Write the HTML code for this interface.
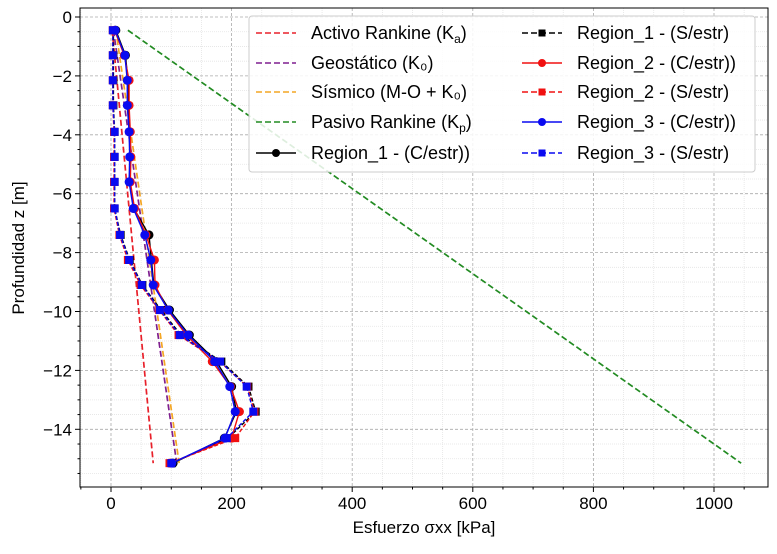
<!DOCTYPE html>
<html><head><meta charset="utf-8"><style>
body{margin:0;background:#fff;font-family:"Liberation Sans",sans-serif;}
svg text{font-family:"Liberation Sans",sans-serif;}
</style></head><body>
<svg id="chart" width="777" height="549" xmlns="http://www.w3.org/2000/svg">
<rect width="777" height="549" fill="#fff"/>
<g id="grid"></g><g id="series"></g><g id="axes"></g><g id="legend"></g>
</svg>
<script>
const depths=[-0.45,-1.3,-2.15,-3.0,-3.9,-4.75,-5.6,-6.5,-7.4,-8.25,-9.1,-9.95,-10.8,-11.7,-12.55,-13.4,-14.3,-15.15];
const r1C=[8,24,28,28,31,32,31,38,63,67,71,97,130,175,200,208,188,103];
const r1S=[4,4,4,4,6,6,6,6,16,31,52,83,116,183,228,240,194,101];
const r2C=[6,22,30,30,32,33,32,39,58,72,73,94,125,168,198,213,200,98];
const r2S=[3,3,3,3,5,5,5,5,14,28,49,80,112,180,226,238,206,97];
const r3C=[7,23,27,27,30,31,30,37,56,66,70,95,128,172,197,206,189,101];
const r3S=[3,3,3,3,6,6,6,6,15,30,51,81,114,181,225,236,192,100];
const theoryZ=[-0.45,-15.15];
const activo=[2,70];
const geo=[4,109];
const sism=[8,113];
const pasivo=[28,1045];
const xTicks=[0,200,400,600,800,1000];
const yTicks=[0,-2,-4,-6,-8,-10,-12,-14];

const L=80,R=768,T=8,B=487;
const X=v=>111+v*0.6030;
const Y=z=>17-z*29.45;
const NS="http://www.w3.org/2000/svg";
function mk(tag,attrs,parent){const e=document.createElementNS(NS,tag);for(const k in attrs)e.setAttribute(k,attrs[k]);parent.appendChild(e);return e;}
const grid=document.getElementById('grid'),ser=document.getElementById('series'),ax=document.getElementById('axes'),lg=document.getElementById('legend');
for(let v=-50;v<=1080;v+=50){if(v%200===0)continue;const x=X(v);if(x<L||x>R)continue;mk('line',{x1:x,x2:x,y1:T,y2:B,stroke:'#e4e4e4','stroke-width':0.8,'stroke-dasharray':'1,1'},grid);}
for(let z=0;z>=-15.9;z-=0.5){if(Math.abs(z%2)<1e-6)continue;const y=Y(z);mk('line',{x1:L,x2:R,y1:y,y2:y,stroke:'#e4e4e4','stroke-width':0.8,'stroke-dasharray':'1,1'},grid);}
xTicks.forEach(v=>{const x=X(v);const g=mk('line',{x1:x,x2:x,y1:T,y2:B,stroke:'#aaa','stroke-width':0.8,'stroke-dasharray':'3,2'},grid);});
yTicks.forEach(z=>{const y=Y(z);const g=mk('line',{x1:L,x2:R,y1:y,y2:y,stroke:'#aaa','stroke-width':0.8,'stroke-dasharray':'3,2'},grid);});
function tline(vals,color,name){const p=mk('polyline',{points:vals.map((v,i)=>X(v)+','+Y(theoryZ[i])).join(' '),fill:'none',stroke:color,'stroke-width':1.7,'stroke-dasharray':'6,3'},ser);}
tline(activo,'#e8202a','activo-rankine-line');
tline(geo,'#7f1f8f','geostatico-line');
tline(sism,'#f4a623','sismico-line');
tline(pasivo,'#228b22','pasivo-rankine-line');
function series(vals,color,dashed,marker,name){
 const p=mk('polyline',{points:vals.map((v,i)=>X(v)+','+Y(depths[i])).join(' '),fill:'none',stroke:color,'stroke-width':1.4},ser);
 if(dashed)p.setAttribute('stroke-dasharray','4,2');
 
 vals.forEach((v,i)=>{let m;if(marker==='o')m=mk('circle',{cx:X(v),cy:Y(depths[i]),r:4.5,fill:color},ser);else m=mk('rect',{x:X(v)-4,y:Y(depths[i])-4,width:8,height:8,fill:color},ser);
 });
}
series(r1C,'#000',false,'o','region1-c');
series(r1S,'#000',true,'s','region1-s');
series(r2C,'#f01010',false,'o','region2-c');
series(r2S,'#f01010',true,'s','region2-s');
series(r3C,'#0a0af0',false,'o','region3-c');
series(r3S,'#0a0af0',true,'s','region3-s');
const fr=mk('rect',{x:L,y:T,width:R-L,height:B-T,fill:'none',stroke:'#000','stroke-width':1},ax);
for(let v=-50;v<=1080;v+=50){const x=X(v);if(x<L)continue;mk('line',{x1:x,x2:x,y1:B,y2:B+(v%200===0?5:2.5),stroke:'#000'},ax);}
for(let z=0;z>=-15.9;z-=0.5){const y=Y(z);mk('line',{x1:L,x2:L-(Math.abs(z%2)<1e-6?5:2.5),y1:y,y2:y,stroke:'#000'},ax);}
xTicks.forEach(v=>{const t=mk('text',{x:X(v),y:B+22,'text-anchor':'middle','font-size':17,fill:'#000'},ax);t.textContent=v;});
yTicks.forEach(z=>{const t=mk('text',{x:L-8,y:Y(z)+6,'text-anchor':'end','font-size':17,fill:'#000'},ax);t.textContent=z===0?'0':'\u2212'+(-z);});
const xt=mk('text',{x:424,y:533,'text-anchor':'middle','font-size':17},ax);xt.textContent='Esfuerzo σxx [kPa]';
const yt=mk('text',{x:24,y:248,'text-anchor':'middle','font-size':17,transform:'rotate(-90 24 248)'},ax);yt.textContent='Profundidad z [m]';
const lb=mk('rect',{x:249,y:16,width:506,height:156,rx:3,fill:'#fff','fill-opacity':0.85,stroke:'#ccc'},lg);
const ent=[
 [256,33,'#e8202a',true,null,'Activo Rankine (K<tspan font-size="12" dy="4">a</tspan><tspan dy="-4">)</tspan>'],
 [256,63,'#7f1f8f',true,null,'Geostático (K₀)'],
 [256,92,'#f4a623',true,null,'Sísmico (M-O + K₀)'],
 [256,122,'#228b22',true,null,'Pasivo Rankine (K<tspan font-size="12" dy="4">p</tspan><tspan dy="-4">)</tspan>'],
 [256,153,'#000',false,'o','Region_1 - (C/estr))'],
 [522,33,'#000',true,'s','Region_1 - (S/estr)'],
 [522,63,'#f01010',false,'o','Region_2 - (C/estr))'],
 [522,92,'#f01010',true,'s','Region_2 - (S/estr)'],
 [522,122,'#0a0af0',false,'o','Region_3 - (C/estr))'],
 [522,153,'#0a0af0',true,'s','Region_3 - (S/estr)']];
ent.forEach(e=>{const g=mk('g',{},lg);
 const l=mk('line',{x1:e[0],x2:e[0]+40,y1:e[1],y2:e[1],stroke:e[2],'stroke-width':1.6},g);if(e[3])l.setAttribute('stroke-dasharray','6,3');
 if(e[4]==='o')mk('circle',{cx:e[0]+20,cy:e[1],r:4,fill:e[2]},g);if(e[4]==='s')mk('rect',{x:e[0]+16.5,y:e[1]-3.5,width:7,height:7,fill:e[2]},g);
 const t=mk('text',{x:e[0]+55,y:e[1]+6,'font-size':18},g);t.innerHTML=e[5];});
</script>
</body></html>
